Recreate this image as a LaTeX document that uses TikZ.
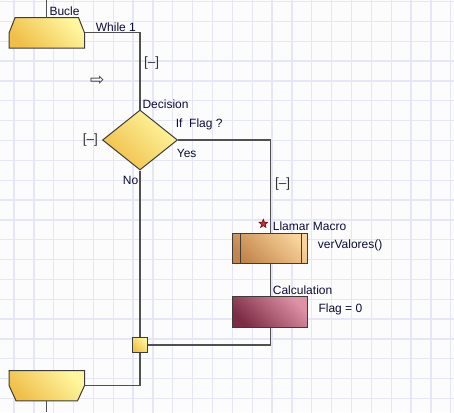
\documentclass[tikz,border=0pt]{standalone}
\usepackage{fontspec}
\setmainfont{Liberation Sans}
\newfontfamily\arrowfont{DejaVu Sans}
\usepackage{xcolor}
\usepackage{tikz}
\usetikzlibrary{shapes.geometric,calc}

\definecolor{paper}{RGB}{252,252,252}
\definecolor{gridblue}{RGB}{230,230,249}
\definecolor{linkgray}{RGB}{80,80,80}
\definecolor{edgegray}{RGB}{60,60,60}
\definecolor{foldgray}{RGB}{50,50,50}
\definecolor{textnavy}{RGB}{12,12,56}
\definecolor{yellowlight}{RGB}{255,247,160}
\definecolor{yellowdark}{RGB}{240,190,74}
\definecolor{macrolight}{RGB}{249,212,156}
\definecolor{macrodark}{RGB}{194,134,76}
\definecolor{calclight}{RGB}{222,146,166}
\definecolor{calcdark}{RGB}{124,44,68}
\definecolor{starred}{RGB}{214,40,48}
\definecolor{stardark}{RGB}{90,20,20}

\begin{document}
\begin{tikzpicture}[x=1pt, y=1pt,
  gridline/.style={draw=gridblue, line width=1.3pt},
  link/.style={draw=linkgray, line width=1.3pt},
  yellowbox/.style={draw=edgegray, line width=1pt,
    top color=yellowlight, bottom color=yellowdark, shading angle=-45},
  macrobox/.style={draw=edgegray, line width=1pt, inner sep=0pt,
    top color=macrolight, bottom color=macrodark, shading angle=-45},
  calcbox/.style={draw=edgegray, line width=1pt, inner sep=0pt,
    top color=calclight, bottom color=calcdark, shading angle=-45},
  anchorbox/.style={draw=none, inner sep=0pt, minimum width=75pt, minimum height=30pt},
  tag/.style={font=\fontsize{12}{14}\selectfont, text=textnavy,
    inner sep=0pt, anchor=base west},
  fold/.style={font=\fontsize{13.5}{15}\selectfont, text=foldgray, inner sep=0pt},
]
\useasboundingbox (0,0) rectangle (454,-412);
\fill[paper] (0,0) rectangle (454,-412);
\clip (0,0) rectangle (454,-412);

% --- Grid ---
\draw[gridline, step=19.85, xshift=14pt, yshift=-1.5pt] (-20,-420) grid (450,10);

% --- Loop start ---
\coordinate (topIn) at (46.8,0);
\node[anchorbox] (loopStart) at (46.8,-32.8) {};
\draw[yellowbox] ([xshift=6pt]loopStart.north west) -- ([xshift=-6pt]loopStart.north east)
  -- (loopStart.east) -- (loopStart.south east) -- (loopStart.south west)
  -- (loopStart.west) -- cycle;
\node[tag] at (49.3,-15.3) {Bucle};
\node[tag] at (95.7,-31.6) {While 1};
\node[fold] at (151.7,-63) {[–]};
\node[font=\arrowfont\fontsize{17}{17}\selectfont, text=foldgray, inner sep=0pt]
  (hint) at (97.2,-80.7) {⇨};

% --- Decision ---
\node[yellowbox, diamond, minimum width=75pt, minimum height=60pt, inner sep=0pt]
  (decision) at (140,-140) {};
\node[tag] at (142.3,-108.3) {Decision};
\node[tag] at (175.7,-127.3) {If\ \ Flag ?};
\node[tag] at (176.7,-157.3) {Yes};
\node[tag] at (122.7,-184) {No};
\node[fold] at (90.3,-139.7) {[–]};
\node[fold] at (282.7,-184.5) {[–]};

% --- Macro call ---
\node[macrobox, minimum width=75pt, minimum height=30pt] (callMacro) at (270.2,-248.3) {};
\draw[draw=edgegray, line width=1pt] ([xshift=8pt]callMacro.north west)
  -- ([xshift=8pt]callMacro.south west);
\draw[draw=edgegray, line width=1pt] ([xshift=-7pt]callMacro.north east)
  -- ([xshift=-7pt]callMacro.south east);
\node[star, star points=5, star point ratio=2.3, minimum size=9pt, inner sep=0pt,
  fill=starred, draw=stardark, line width=0.6pt] (favStar) at (263.3,-223.7) {};
\node[tag] at (272.7,-230) {Llamar Macro};
\node[tag] at (317.7,-248.5) {verValores()};

% --- Calculation ---
\node[calcbox, minimum width=75pt, minimum height=30.6pt] (calcBox) at (270.2,-312) {};
\node[tag] at (272.7,-294.3) {Calculation};
\node[tag] at (318.3,-312) {Flag = 0};

% --- Merge and loop end ---
\node[yellowbox, minimum size=15.4pt, inner sep=0pt] (merge) at (140,-345) {};
\node[anchorbox] (loopEnd) at (46.8,-385.7) {};
\draw[yellowbox] (loopEnd.north west) -- (loopEnd.north east) -- (loopEnd.east)
  -- ([xshift=-7pt]loopEnd.south east) -- ([xshift=7pt]loopEnd.south west)
  -- (loopEnd.west) -- cycle;
\coordinate (botOut) at (46.8,-412);

% Connectors
\draw[link] (topIn) -- (loopStart.north);
\draw[link] (loopStart.east) -| (decision.north);
\draw[link] (decision.east) -| (callMacro.north);
\draw[link] (callMacro.south) -- (calcBox.north);
\draw[link] (calcBox.south) |- (merge.east);
\draw[link] (decision.south) -- (merge.north);
\draw[link] (merge.south) |- (loopEnd.east);
\draw[link] (loopEnd.south) -- (botOut);
\end{tikzpicture}
\end{document}
